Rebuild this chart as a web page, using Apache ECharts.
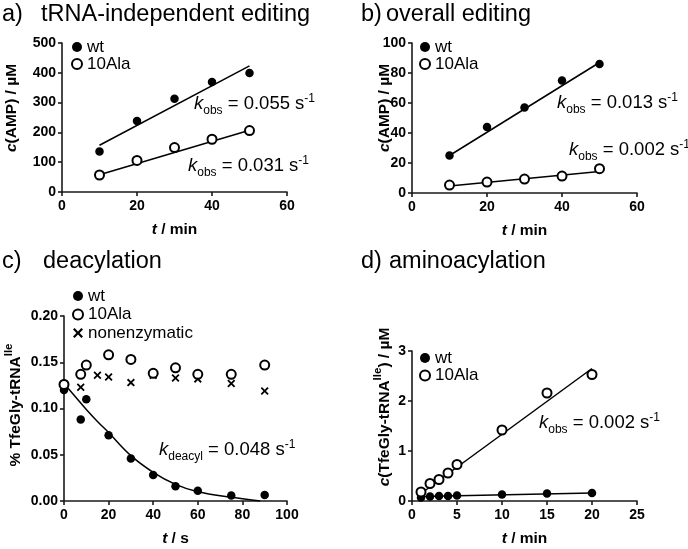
<!DOCTYPE html>
<html>
<head>
<meta charset="utf-8">
<script src="https://cdn.jsdelivr.net/npm/echarts@6/dist/echarts.min.js"></script>
<style>html,body{margin:0;padding:0;background:#fff;}#c{width:688px;height:549px;}</style>
</head>
<body>
<div id="c"></div>
<script>
// ---- Panel a: tRNA-independent editing ----
const aTime = [10, 20, 30, 40, 50];
const aWt = [136, 238, 313, 369, 399];
const aAla = [57, 106, 149, 177, 206];
const aFitTime = [10, 50];
const aWtFit = [157, 423];
const aAlaFit = [58, 207];

// ---- Panel b: overall editing ----
const bTime = [10, 20, 30, 40, 50];
const bWt = [25, 44, 57, 75, 86];
const bAla = [5.3, 7.3, 9.3, 11.3, 16.2];
const bFitTime = [10, 50];
const bWtFit = [25, 87];
const bAlaFit = [4.7, 14.4];

// ---- Panel c: deacylation ----
const cWtTime = [0, 0, 7.5, 10, 20, 30, 40, 50, 60, 75, 90];
const cWt = [0.127, 0.120, 0.088, 0.110, 0.071, 0.046, 0.028, 0.016, 0.011, 0.006, 0.0065];
const cAlaTime = [0, 7.5, 10, 20, 30, 40, 50, 60, 75, 90];
const cAla = [0.126, 0.137, 0.147, 0.158, 0.153, 0.138, 0.144, 0.137, 0.137, 0.147];
const cNonTime = [0, 7.5, 15, 20, 30, 40, 50, 60, 75, 90];
const cNon = [0.125, 0.123, 0.136, 0.134, 0.128, 0.136, 0.133, 0.132, 0.127, 0.119];
const cFitTime = [0, 5, 10, 15, 20, 30, 40, 50, 60, 75, 88];
const cFit = [0.127, 0.113, 0.099, 0.086, 0.074, 0.049, 0.031, 0.018, 0.010, 0.004, 0.0];

// ---- Panel d: aminoacylation ----
const dTime = [1, 2, 3, 4, 5, 10, 15, 20];
const dWt = [0.07, 0.09, 0.10, 0.10, 0.11, 0.13, 0.15, 0.16];
const dAla = [0.18, 0.35, 0.43, 0.56, 0.73, 1.42, 2.16, 2.53];
const dFitTime = [1, 20];
const dWtFit = [0.09, 0.16];
const dAlaFit = [0.15, 2.65];

// ---- texts ----
const panelLetters = ['a)', 'b)', 'c)', 'd)'];
const panelTitles = ['tRNA-independent editing', 'overall editing', 'deacylation', 'aminoacylation'];
const legendNames = ['wt', '10Ala', 'nonenzymatic'];
const kTexts = [
  ['obs', '0.055'], ['obs', '0.031'], ['obs', '0.013'], ['obs', '0.002'], ['deacyl', '0.048'], ['obs', '0.002']
];

const FONT = '"Liberation Sans", Arial, Helvetica, sans-serif';
const AX = '#1a1a1a';
const pairs = (xs, ys) => xs.map((x, i) => [x, ys[i]]);

function xAx(g, min, max, interval, name) {
  return {
    type: 'value', gridIndex: g, min, max, interval,
    name, nameLocation: 'middle', nameGap: 30,
    nameTextStyle: {
      color: '#000', fontFamily: FONT, fontSize: 15.5, fontWeight: 'bold',
      rich: { i: { fontFamily: FONT, fontSize: 15.5, fontWeight: 'bold', fontStyle: 'italic', color: '#000' } }
    },
    axisLine: { onZero: false, lineStyle: { color: AX, width: 1.6 } },
    axisTick: { show: true, length: 4, lineStyle: { color: AX, width: 1.6 } },
    axisLabel: { color: '#000', fontFamily: FONT, fontSize: 14, fontWeight: 'bold', margin: 7 },
    splitLine: { show: false }
  };
}
function yAx(g, min, max, interval, fmt) {
  return {
    type: 'value', gridIndex: g, min, max, interval,
    axisLine: { show: true, onZero: false, lineStyle: { color: AX, width: 1.6 } },
    axisTick: { show: true, length: 4, lineStyle: { color: AX, width: 1.6 } },
    axisLabel: { color: '#000', fontFamily: FONT, fontSize: 14, fontWeight: 'bold', margin: 6, formatter: fmt },
    splitLine: { show: false }
  };
}
const filled = (name, g, xs, ys) => ({
  type: 'scatter', name, xAxisIndex: g, yAxisIndex: g, data: pairs(xs, ys),
  symbol: 'circle', symbolSize: 8.5, itemStyle: { color: '#000', opacity: 1 }, z: 4
});
const open = (name, g, xs, ys) => ({
  type: 'scatter', name, xAxisIndex: g, yAxisIndex: g, data: pairs(xs, ys),
  symbol: 'circle', symbolSize: 9, itemStyle: { color: '#fff', borderColor: '#000', borderWidth: 2, opacity: 1 }, z: 5
});
const cross = (name, g, xs, ys) => ({
  type: 'scatter', name, xAxisIndex: g, yAxisIndex: g, data: pairs(xs, ys),
  symbol: 'path://M0,1.6L1.6,0L5,3.4L8.4,0L10,1.6L6.6,5L10,8.4L8.4,10L5,6.6L1.6,10L0,8.4L3.4,5Z',
  symbolSize: 8, itemStyle: { color: '#000', opacity: 1 }, z: 4
});
const fit = (g, xs, ys, smooth) => ({
  type: 'line', name: 'fit', xAxisIndex: g, yAxisIndex: g, data: pairs(xs, ys),
  showSymbol: false, smooth: smooth || false, lineStyle: { color: '#000', width: 1.5 }, z: 2, silent: true
});

function legend(left, top, names, gap) {
  return {
    data: names, orient: 'vertical', left, top, padding: 0, itemGap: gap,
    itemWidth: 10, itemHeight: 10, selectedMode: false,
    textStyle: { color: '#000', fontFamily: FONT, fontSize: 17, lineHeight: 16 }
  };
}

function titleText(x, y, t, size) {
  return { type: 'text', x, y, style: { text: t, fill: '#000', fontFamily: FONT, fontSize: size, align: 'left', verticalAlign: 'middle' } };
}
function yTitle(x, y, text) {
  const base = { fontFamily: FONT, fontSize: 15.5, fontWeight: 'bold', fill: '#000' };
  return {
    type: 'text', x, y, rotation: Math.PI / 2,
    style: Object.assign({
      text, align: 'center', verticalAlign: 'middle',
      rich: {
        i: Object.assign({}, base, { fontStyle: 'italic', verticalAlign: 'middle', lineHeight: 26 }),
        n: Object.assign({}, base, { verticalAlign: 'middle', lineHeight: 26 }),
        sup: Object.assign({}, base, { fontSize: 11.5, verticalAlign: 'top', lineHeight: 14 })
      }
    }, base)
  };
}
function kText(x, y, k) {
  const base = { fontFamily: FONT, fontSize: 18.5, fontWeight: 'normal', fill: '#000' };
  return {
    type: 'text', x, y,
    style: Object.assign({
      text: '{k|k}{sub|' + k[0] + '}{m| = ' + k[1] + ' s}{sup|-1}',
      align: 'left', verticalAlign: 'middle',
      rich: {
        k: Object.assign({}, base, { fontStyle: 'italic', verticalAlign: 'middle' }),
        m: Object.assign({}, base, { verticalAlign: 'middle' }),
        sub: Object.assign({}, base, { fontSize: 12, verticalAlign: 'bottom', padding: [14, 0, 0, 0] }),
        sup: Object.assign({}, base, { fontSize: 12, verticalAlign: 'top', padding: [2, 0, 0, 0] })
      }
    }, base)
  };
}

const option = {
  animation: false,
  backgroundColor: '#fff',
  grid: [
    { left: 62, top: 43, width: 225, height: 149 },
    { left: 412, top: 43, width: 225, height: 150 },
    { left: 64, top: 316, width: 223, height: 185 },
    { left: 412, top: 351, width: 225, height: 150 }
  ],
  xAxis: [
    xAx(0, 0, 60, 20, '{i|t} / min'),
    xAx(1, 0, 60, 20, '{i|t} / min'),
    xAx(2, 0, 100, 20, '{i|t} / s'),
    xAx(3, 0, 25, 5, '{i|t} / min')
  ],
  yAxis: [
    yAx(0, 0, 500, 100),
    yAx(1, 0, 100, 20),
    yAx(2, 0, 0.2, 0.05, v => v.toFixed(2)),
    yAx(3, 0, 3, 1)
  ],
  legend: [
    legend(71, 38.5, legendNames.slice(0, 2), 0),
    legend(419, 38.5, legendNames.slice(0, 2), 0),
    legend(72, 287.5, legendNames, 1.5),
    legend(419, 349.5, legendNames.slice(0, 2), 0.5)
  ],
  series: [
    fit(0, aFitTime, aWtFit), fit(0, aFitTime, aAlaFit),
    filled('wt', 0, aTime, aWt), open('10Ala', 0, aTime, aAla),
    fit(1, bFitTime, bWtFit), fit(1, bFitTime, bAlaFit),
    filled('wt', 1, bTime, bWt), open('10Ala', 1, bTime, bAla),
    fit(2, cFitTime, cFit, 0.4),
    open('10Ala', 2, cAlaTime, cAla), cross('nonenzymatic', 2, cNonTime, cNon), filled('wt', 2, cWtTime, cWt),
    fit(3, dFitTime, dWtFit), fit(3, dFitTime, dAlaFit),
    open('10Ala', 3, dTime, dAla), filled('wt', 3, dTime, dWt)
  ],
  graphic: [
    titleText(2, 15, panelLetters[0], 23.5), titleText(41, 15, panelTitles[0], 23.5),
    titleText(361, 15, panelLetters[1], 23.5), titleText(386, 15, panelTitles[1], 23.5),
    titleText(2, 262, panelLetters[2], 23.5), titleText(43, 262, panelTitles[2], 23.5),
    titleText(361, 262, panelLetters[3], 23.5), titleText(389, 262, panelTitles[3], 23.5),
    yTitle(12, 108, '{i|c}{n|(AMP) / µM}'),
    yTitle(385, 108, '{i|c}{n|(AMP) / µM}'),
    yTitle(16, 405, '{n|% TfeGly-tRNA}{sup|Ile}'),
    yTitle(385, 407, '{i|c}{n|(TfeGly-tRNA}{sup|Ile}{n|) / µM}'),
    kText(194, 104, kTexts[0]),
    kText(188, 166, kTexts[1]),
    kText(557, 103, kTexts[2]),
    kText(569, 150, kTexts[3]),
    kText(159, 450, kTexts[4]),
    kText(539, 423, kTexts[5])
  ]
};
const chart = echarts.init(document.getElementById('c'), null, { renderer: 'canvas' });
chart.setOption(option);
</script>
</body>
</html>
